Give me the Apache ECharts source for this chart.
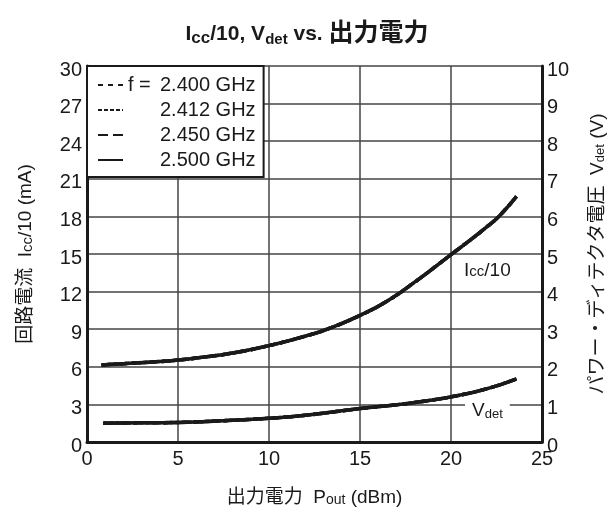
<!DOCTYPE html>
<html><head><meta charset="utf-8">
<script src="https://cdn.jsdelivr.net/npm/echarts@6.0.0/dist/echarts.min.js"></script>
<style>html,body{margin:0;padding:0;background:#fff}#c{width:614px;height:513px}</style>
</head><body><div id="c"></div>
<script>
// ---- data ----
const freqs = ['2.400 GHz', '2.412 GHz', '2.450 GHz', '2.500 GHz'];
const dashTypes = [[5, 5], [4, 2], [10, 5], 'solid'];
const poutIcc = [0.8, 2, 4, 5, 6, 8, 10, 12, 13.2, 15, 16.5, 18, 20, 21, 22, 22.7, 23.6];
const iccDiv10 = [6.15, 6.25, 6.42, 6.54, 6.7, 7.1, 7.69, 8.45, 9.0, 10.1, 11.25, 12.75, 14.95, 16.05, 17.2, 18.1, 19.6];
const poutVdet = [0.9, 3, 5, 8, 10, 12, 15, 17, 18, 20, 22, 23.6];
const vdet = [0.50, 0.51, 0.52, 0.58, 0.63, 0.71, 0.89, 0.99, 1.05, 1.20, 1.42, 1.68];
const iccLabelAt = [22.0, 13.7];
const vdetLabelAt = [22.0, 0.82];
const xTicks = { min: 0, max: 25, interval: 5 };
const leftTicks = { min: 0, max: 30, interval: 3 };
const rightTicks = { min: 0, max: 10, interval: 1 };

const FONT = '"Liberation Sans", "Noto Sans CJK JP", sans-serif';
const C = '#1a1a1a';

const iccPairs = poutIcc.map((x, i) => [x, iccDiv10[i]]);
const vdetPairs = poutVdet.map((x, i) => [x, vdet[i]]);

const series = [];
freqs.forEach((f, k) => {
  const base = {
    name: f, type: 'line', showSymbol: false, symbol: 'none', smooth: 0.5,
    lineStyle: { color: C, width: 3.5, type: dashTypes[k] },
    itemStyle: { color: C },
    animation: false, z: 3 + k
  };
  series.push(Object.assign({}, base, { xAxisIndex: 0, yAxisIndex: 0, data: iccPairs }));
  series.push(Object.assign({}, base, { xAxisIndex: 0, yAxisIndex: 1, data: vdetPairs }));
});
series.push({
  type: 'scatter', name: 'iccLabel', xAxisIndex: 0, yAxisIndex: 0, data: [iccLabelAt],
  symbolSize: 1, itemStyle: { color: 'rgba(0,0,0,0)', opacity: 1 }, silent: true, z: 20, animation: false,
  label: {
    show: true, position: 'inside', formatter: '{i|I}{s|cc}{i|/10}', opacity: 1,
    backgroundColor: '#fff', padding: [3, 3, 3, 3],
    rich: {
      i: { fontSize: 19, color: C, fontFamily: FONT },
      s: { fontSize: 15, color: C, fontFamily: FONT, verticalAlign: 'bottom' }
    }
  }
});
series.push({
  type: 'scatter', name: 'vdetLabel', xAxisIndex: 0, yAxisIndex: 1, data: [vdetLabelAt],
  symbolSize: 1, itemStyle: { color: 'rgba(0,0,0,0)', opacity: 1 }, silent: true, z: 20, animation: false,
  label: {
    show: true, position: 'inside', formatter: '{i|V}{s|det}', opacity: 1,
    backgroundColor: '#fff', padding: [4, 7, 4, 7],
    rich: {
      i: { fontSize: 19, color: C, fontFamily: FONT },
      s: { fontSize: 13, color: C, fontFamily: FONT, verticalAlign: 'bottom' }
    }
  }
});

const chart = echarts.init(document.getElementById('c'), null, { renderer: 'canvas' });
chart.setOption({
  backgroundColor: '#fff',
  animation: false,
  title: {
    text: '{a|I}{b|cc}{a|/10, V}{c|det}{a| vs. }{j|出力電力}',
    left: 'center', top: 17,
    textStyle: {
      rich: {
        a: { fontSize: 21, fontWeight: 'bold', color: C, fontFamily: FONT },
        b: { fontSize: 17, fontWeight: 'bold', color: C, fontFamily: FONT, verticalAlign: 'bottom' },
        c: { fontSize: 15, fontWeight: 'bold', color: C, fontFamily: FONT, verticalAlign: 'bottom' },
        j: { fontSize: 25, fontWeight: 'bold', color: C, fontFamily: FONT }
      }
    }
  },
  grid: { left: 87, right: 72, top: 66, bottom: 71, containLabel: false, outerBoundsMode: 'none' },
  legend: {
    data: freqs,
    orient: 'vertical', left: 87, top: 66,
    padding: [9, 8, 7, 10], itemGap: 5, itemWidth: 25, itemHeight: 14,
    backgroundColor: '#fff', borderColor: C, borderWidth: 2, borderRadius: 0,
    selectedMode: false,
    itemStyle: { opacity: 0 },
    formatter: name => (name === freqs[0] ? '{p|f = }' : '{p| }') + '{v|' + name + '}',
    textStyle: {
      rich: {
        p: { width: 32, fontSize: 20, lineHeight: 20, color: C, fontFamily: FONT },
        v: { fontSize: 20, lineHeight: 20, color: C, fontFamily: FONT }
      }
    },
    z: 10
  },
  xAxis: {
    type: 'value', min: xTicks.min, max: xTicks.max, interval: xTicks.interval,
    name: '{j|出力電力  }{a|P}{s|out}{a| (dBm)}', nameLocation: 'middle', nameGap: 46,
    nameTextStyle: {
      rich: {
        j: { fontSize: 19, color: C, fontFamily: FONT },
        a: { fontSize: 19, color: C, fontFamily: FONT },
        s: { fontSize: 14, color: C, fontFamily: FONT, verticalAlign: 'bottom' }
      }
    },
    axisLine: { show: true, onZero: false, lineStyle: { color: C, width: 3 } },
    axisTick: { show: false },
    axisLabel: { fontSize: 20, color: C, fontFamily: FONT, margin: 7 },
    splitLine: { show: true, lineStyle: { color: '#444', width: 1.5 } }
  },
  yAxis: [
    {
      type: 'value', position: 'left', min: leftTicks.min, max: leftTicks.max, interval: leftTicks.interval,
      name: '{j|回路電流  }{a|I}{s|cc}{a|/10 (mA)}', nameLocation: 'middle', nameGap: 52,
      nameTextStyle: {
        rich: {
          j: { fontSize: 19, color: C, fontFamily: FONT },
          a: { fontSize: 19, color: C, fontFamily: FONT },
          s: { fontSize: 15, color: C, fontFamily: FONT, verticalAlign: 'bottom' }
        }
      },
      axisLine: { show: true, onZero: false, lineStyle: { color: C, width: 3 } },
      axisTick: { show: false },
      axisLabel: { fontSize: 20, color: C, fontFamily: FONT, margin: 5, verticalAlign: 'top', padding: [-6, 0, 0, 0] },
      splitLine: { show: true, lineStyle: { color: '#444', width: 1.5 } }
    },
    {
      type: 'value', position: 'right', min: rightTicks.min, max: rightTicks.max, interval: rightTicks.interval,
      name: '{j|パワー・ディテクタ電圧  }{a|V}{s|det}{a| (V)}', nameLocation: 'middle', nameGap: 46,
      nameTextStyle: {
        rich: {
          j: { fontSize: 19, color: C, fontFamily: FONT },
          a: { fontSize: 19, color: C, fontFamily: FONT },
          s: { fontSize: 13, color: C, fontFamily: FONT, verticalAlign: 'bottom' }
        }
      },
      axisLine: { show: true, onZero: false, lineStyle: { color: C, width: 3 } },
      axisTick: { show: false },
      axisLabel: { fontSize: 20, color: C, fontFamily: FONT, margin: 5, verticalAlign: 'top', padding: [-6, 0, 0, 0] },
      splitLine: { show: false }
    }
  ],
  series: series
});
</script>
</body></html>
